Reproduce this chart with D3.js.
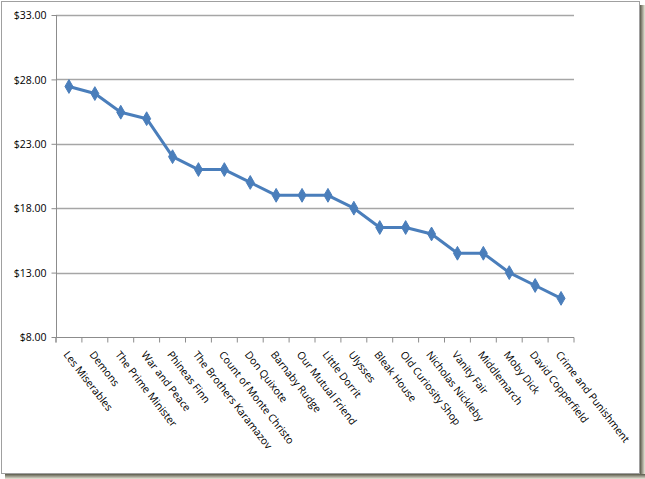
<!DOCTYPE html>
<html><head><meta charset="utf-8">
<script src="https://cdn.jsdelivr.net/npm/d3@7"></script>
<style>body{margin:0;background:#fff;}svg{display:block;}</style>
</head><body>
<svg id="c" width="645" height="479"></svg>
<script>
const categories = ["Les Miserables","Demons","The Prime Minister","War and Peace","Phineas Finn","The Brothers Karamazov","Count of Monte Christo","Don Quixote","Barnaby Rudge","Our Mutual Friend","Little Dorrit","Ulysses","Bleak House","Old Curiosity Shop","Nicholas Nickleby","Vanity Fair","Middlemarch","Moby Dick","David Copperfield","Crime and Punishment"];
const prices = [27.45,26.9,25.45,24.95,22.0,21.0,21.0,20.0,19.0,19.0,19.0,18.0,16.5,16.5,16.0,14.5,14.5,13.0,12.0,11.0];
const yTicks = [8,13,18,23,28,33];

const svg = d3.select("#c");
// shadow
const defs = svg.append("defs");
const gr = defs.append("linearGradient").attr("id","sr").attr("x1",0).attr("x2",1).attr("y1",0).attr("y2",0);
gr.append("stop").attr("offset","0").attr("stop-color","#5a5a4a");
gr.append("stop").attr("offset","1").attr("stop-color","#e8e6d8");
const gb = defs.append("linearGradient").attr("id","sb").attr("x1",0).attr("x2",0).attr("y1",0).attr("y2",1);
gb.append("stop").attr("offset","0").attr("stop-color","#5a5a4a");
gb.append("stop").attr("offset","1").attr("stop-color","#e8e6d8");
svg.append("rect").attr("x",640).attr("y",5).attr("width",5).attr("height",474).attr("fill","url(#sr)");
svg.append("rect").attr("x",5).attr("y",474).attr("width",640).attr("height",5).attr("fill","url(#sb)");
svg.append("rect").attr("x",1.5).attr("y",1.5).attr("width",638).attr("height",472).attr("fill","#fff").attr("stroke","#a0a0a0").attr("stroke-width",1);

const x0 = 56, x1 = 574;
const x = d3.scaleBand().domain(categories).range([x0,x1]).padding(0);
const y = d3.scaleLinear().domain([8,33]).range([337,15]);

// gridlines
svg.append("g").selectAll("line").data(yTicks.slice(1)).join("line")
  .attr("x1",x0).attr("x2",x1).attr("y1",d=>Math.round(y(d))+0.5).attr("y2",d=>Math.round(y(d))+0.5)
  .attr("stroke","#a6a6a6").attr("stroke-width",1.3);

// y axis
const yAx = svg.append("g").attr("transform",`translate(${x0+0.5},0)`)
  .call(d3.axisLeft(y).tickValues(yTicks).tickSize(5).tickFormat(d=>"$"+d3.format(".2f")(d)));
yAx.select(".domain").attr("stroke","#8c8c8c").attr("d",`M0,${y(33)}V${y(8)}`);
yAx.selectAll(".tick line").attr("stroke","#8c8c8c");
yAx.selectAll("text").attr("font-family","'Open Sans', sans-serif").attr("font-size","10.5px").attr("fill","#000").attr("x",-10).attr("dy","0.35em");

// x axis
const xAx = svg.append("g").attr("transform",`translate(0,${Math.round(y(8))+0.5})`)
  .call(d3.axisBottom(x).tickSize(5).tickFormat(""));
xAx.select(".domain").attr("stroke","#8c8c8c").attr("d",`M${x0},5V0H${x1}V5`);
xAx.selectAll(".tick line").attr("stroke","#8c8c8c").attr("transform",function(){return `translate(${-x.bandwidth()/2},0)`;});
xAx.selectAll(".tick").each(function(d){
  d3.select(this).append("text")
    .attr("transform","translate(-3,15) rotate(52)")
    .attr("text-anchor","start")
    .attr("dy","0.35em")
    .attr("font-family","'Open Sans', sans-serif")
    .attr("font-size","10.5px")
    .attr("fill","#000")
    .text(d);
});

// line
const cx = d=>x(d)+x.bandwidth()/2;
const data = categories.map((c,i)=>({c,v:prices[i]}));
svg.append("path").datum(data)
  .attr("d",d3.line().x(d=>cx(d.c)).y(d=>y(d.v)))
  .attr("fill","none").attr("stroke","#4a7ebb").attr("stroke-width",3).attr("stroke-linejoin","round");
svg.append("g").selectAll("path").data(data).join("path")
  .attr("transform",d=>`translate(${cx(d.c)},${y(d.v)})`)
  .attr("d",d3.symbol(d3.symbolDiamond,55))
  .attr("fill","#4a7ebb").attr("stroke","#4a7ebb").attr("stroke-width",1);
</script>
</body></html>
